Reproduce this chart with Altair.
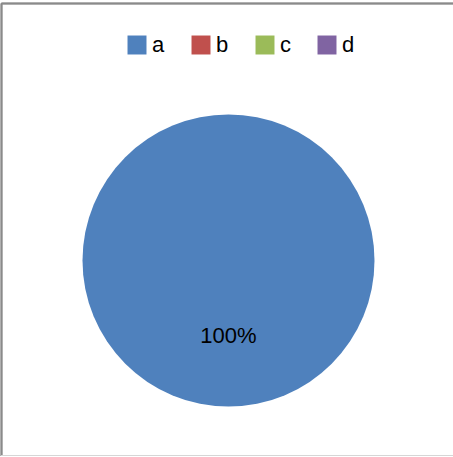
import altair as alt
import pandas as pd

categories = ["a", "b", "c", "d"]
values = [100, 0, 0, 0]
colors = ["#4F81BD", "#C0504D", "#9BBB59", "#8064A2"]

df = pd.DataFrame({"cat": categories, "val": values})
df["pct"] = df["val"] / df["val"].sum()

FONT = "Liberation Sans"
CX, CY, R = 228.5, 260.5, 146

base = alt.Chart(df)

pie = base.mark_arc(radius=R, stroke=None).encode(
    theta=alt.Theta("val:Q", stack=True),
    color=alt.Color(
        "cat:N",
        scale=alt.Scale(domain=categories, range=colors),
        sort=categories,
        legend=alt.Legend(
            title=None,
            orient="none",
            legendX=126,
            legendY=34,
            direction="horizontal",
            symbolType="square",
            symbolSize=360,
            symbolStrokeWidth=0,
            labelFont=FONT,
            labelFontSize=22,
            labelColor="#000000",
            labelOffset=4,
            columnPadding=25,
        ),
    ),
    order=alt.Order("cat:N", sort="ascending"),
    x=alt.value(CX),
    y=alt.value(CY),
)

labels = base.transform_filter(alt.datum.val > 0).mark_text(
    radius=75, font=FONT, fontSize=22, color="#000000", baseline="middle", align="center"
).encode(
    theta=alt.Theta("val:Q", stack=True),
    text=alt.Text("pct:Q", format=".0%"),
    order=alt.Order("cat:N", sort="ascending"),
    x=alt.value(CX),
    y=alt.value(CY),
)

left = base.mark_rule(color="#8a8a8a", strokeWidth=1.5).encode(
    x=alt.value(1.5), y=alt.value(3.5), y2=alt.value(456)
)
top = base.mark_rule(color="#8a8a8a", strokeWidth=1.5).encode(
    x=alt.value(1.5), x2=alt.value(460), y=alt.value(3.5)
)
bottom = base.mark_rule(color="#d6d6d6", strokeWidth=1).encode(
    x=alt.value(1.5), x2=alt.value(460), y=alt.value(455.5)
)

chart = alt.layer(pie, labels, left, top, bottom).properties(
    width=453, height=457, padding=0, autosize=alt.AutoSizeParams(type="none")
).configure_view(stroke=None)

chart.save("out.html", embed_options={"renderer": "svg", "actions": False})
